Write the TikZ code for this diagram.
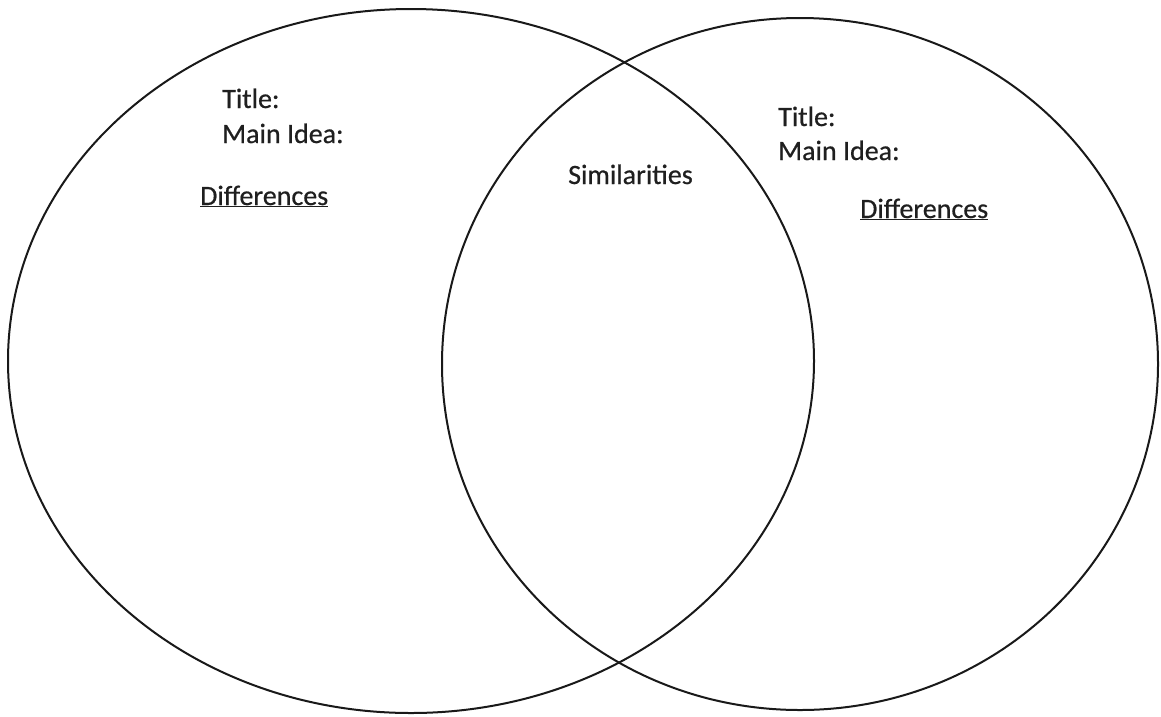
\documentclass[tikz,border=0pt]{standalone}
\usepackage{fontspec}
\setmainfont{Carlito}[FakeBold=0.6]
\begin{document}
\begin{tikzpicture}[x=1pt,y=-1pt,
  ring/.style={draw=black!90,line width=2pt},
  label/.style={anchor=base west,inner sep=0pt,text=black!88,
    font=\fontsize{28}{34}\selectfont}]
\useasboundingbox (0,0) rectangle (1161,716);
% the two overlapping sets
\draw[ring] (411,361) ellipse [x radius=403,y radius=352];
\draw[ring] (800,364) ellipse [x radius=358,y radius=346];
% left set
\node[label] (lt) at (222,108) {Title:};
\node[label] (lm) at (222,143) {Main Idea:};
\node[label] (ld) at (200,205) {\underline{Differences}};
% overlap
\node[label] (sim) at (568,184) {Similarities};
% right set
\node[label] (rt) at (778,126) {Title:};
\node[label] (rm) at (778,160) {Main Idea:};
\node[label] (rd) at (860,218) {\underline{Differences}};
\end{tikzpicture}
\end{document}
